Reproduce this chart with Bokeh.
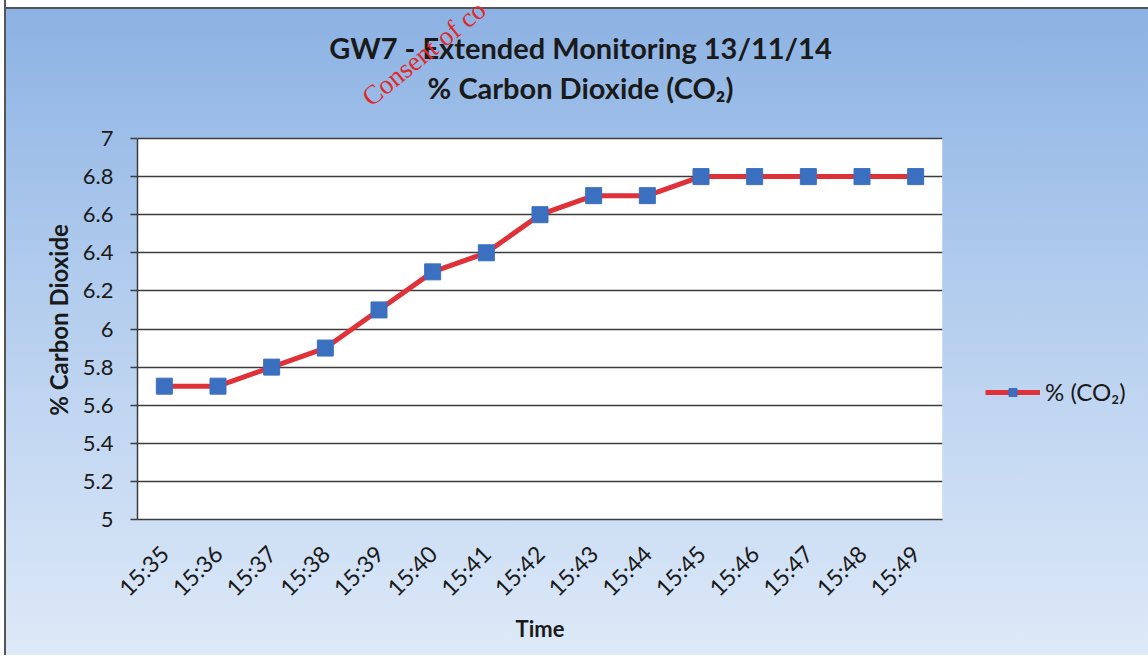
import math
from bokeh.plotting import figure
from bokeh.models import (Label, BoxAnnotation, Legend, LegendItem, InlineStyleSheet,
                          FixedTicker, Range1d)
from bokeh.embed import file_html
from bokeh.resources import INLINE

times = ["15:35", "15:36", "15:37", "15:38", "15:39", "15:40", "15:41", "15:42",
         "15:43", "15:44", "15:45", "15:46", "15:47", "15:48", "15:49"]
co2 = [5.7, 5.7, 5.8, 5.9, 6.1, 6.3, 6.4, 6.6, 6.7, 6.7, 6.8, 6.8, 6.8, 6.8, 6.8]
y_ticks = [5, 5.2, 5.4, 5.6, 5.8, 6, 6.2, 6.4, 6.6, 6.8, 7]
y_tick_labels = ["5", "5.2", "5.4", "5.6", "5.8", "6", "6.2", "6.4", "6.6", "6.8", "7"]
title_lines = ["GW7 - Extended Monitoring 13/11/14", "% Carbon Dioxide (CO₂)"]
watermark = "Consent of co"

FONT = "Lato"
INK = "#1a1a1a"

Y_MIN, Y_MAX = 5, 7
PLOT_H = 381          # pixel height of the white plot area
FRAME_H = 519         # frame also covers the title band above the plot area
y_top = Y_MIN + FRAME_H * (Y_MAX - Y_MIN) / PLOT_H

p = figure(frame_width=805, frame_height=FRAME_H, x_range=times,
           y_range=Range1d(Y_MIN, y_top),
           output_backend="svg", toolbar_location=None,
           min_border_left=137, min_border_right=190,
           min_border_top=0, min_border_bottom=136)
p.title.visible = False

css = (":host { background: "
       "linear-gradient(to right, #ffffff 0px, #ffffff 4px, #555555 4px, #555555 6px, transparent 6px), "
       "linear-gradient(to bottom, #ffffff 0px, #ffffff 7px, #555555 7px, #555555 9px, #8cb2e3 9px, #b3cdee 45%, #dde9f8 100%); }")
p.stylesheets = [InlineStyleSheet(css=css)]
p.border_fill_color = None
p.background_fill_color = None
p.outline_line_color = None

# white plot area (5..7)
p.add_layout(BoxAnnotation(bottom=Y_MIN, top=Y_MAX, fill_color="white", fill_alpha=1,
                           line_color=None, level="image"))

p.xgrid.grid_line_color = None
p.ygrid.grid_line_color = "#3c3c3c"
p.ygrid.grid_line_width = 1.5
p.ygrid.ticker = FixedTicker(ticks=y_ticks)

p.yaxis.ticker = FixedTicker(ticks=y_ticks)
p.yaxis.bounds = (Y_MIN, Y_MAX)
p.yaxis.major_label_overrides = {t: l for t, l in zip(y_ticks, y_tick_labels)}
p.yaxis.axis_line_color = "#3c3c3c"
p.yaxis.axis_line_width = 1.5
p.yaxis.major_tick_line_color = "#3c3c3c"
p.yaxis.major_tick_line_width = 1.5
p.yaxis.major_tick_out = 7
p.yaxis.major_tick_in = 0
p.yaxis.minor_tick_line_color = None
p.yaxis.major_label_text_font = FONT
p.yaxis.major_label_text_font_size = "22px"
p.yaxis.major_label_text_color = INK
p.yaxis.major_label_standoff = 17
# trailing (non-collapsing) em/en spaces centre the visible label on the 5..7 plot area
p.yaxis.axis_label = "% Carbon Dioxide" + "\u2003" * 6 + "\u2002"
p.yaxis.axis_label_text_font = FONT
p.yaxis.axis_label_text_font_style = "bold"
p.yaxis.axis_label_text_font_size = "24px"
p.yaxis.axis_label_text_color = INK
p.yaxis.axis_label_standoff = 7

p.xaxis.axis_line_color = "#3c3c3c"
p.xaxis.axis_line_width = 1.5
p.xaxis.major_tick_line_color = None
p.xaxis.minor_tick_line_color = None
p.xaxis.major_label_orientation = math.pi / 4
p.xaxis.major_label_text_font = FONT
p.xaxis.major_label_text_font_size = "23px"
p.xaxis.major_label_text_color = INK
p.xaxis.major_label_standoff = 24
p.xaxis.axis_label = "Time"
p.xaxis.axis_label_text_font = FONT
p.xaxis.axis_label_text_font_style = "bold"
p.xaxis.axis_label_text_font_size = "22px"
p.xaxis.axis_label_text_color = INK
p.xaxis.axis_label_standoff = 1

line = p.line(times, co2, line_color="#e03038", line_width=5)
pts = p.scatter(times, co2, marker="square", size=16, fill_color="#3b6fc0",
                line_color="#3b6fc0")

legend = Legend(items=[LegendItem(label="% (CO₂)", renderers=[line, pts])],
                location=(43, 113), glyph_width=55, glyph_height=20,
                label_text_font=FONT, label_text_font_size="24px",
                label_text_color=INK, background_fill_alpha=0,
                border_line_color=None, label_standoff=5, padding=5, margin=0)
p.add_layout(legend, "right")

# chart title: two centred lines in the band above the plot area
for txt, yy in zip(title_lines, [7.478, 7.268]):
    p.add_layout(Label(x=8.255, y=yy, text=txt, text_align="center",
                       text_baseline="middle", text_font=FONT,
                       text_font_style="bold", text_font_size="29px",
                       text_color=INK))

p.add_layout(Label(x=4.248, y=7.199, text=watermark, angle=0.68,
                   text_align="left", text_baseline="alphabetic",
                   text_font="Liberation Serif", text_font_size="27px",
                   text_color="#e02828"))

open("out.html", "w").write(file_html(p, INLINE))
